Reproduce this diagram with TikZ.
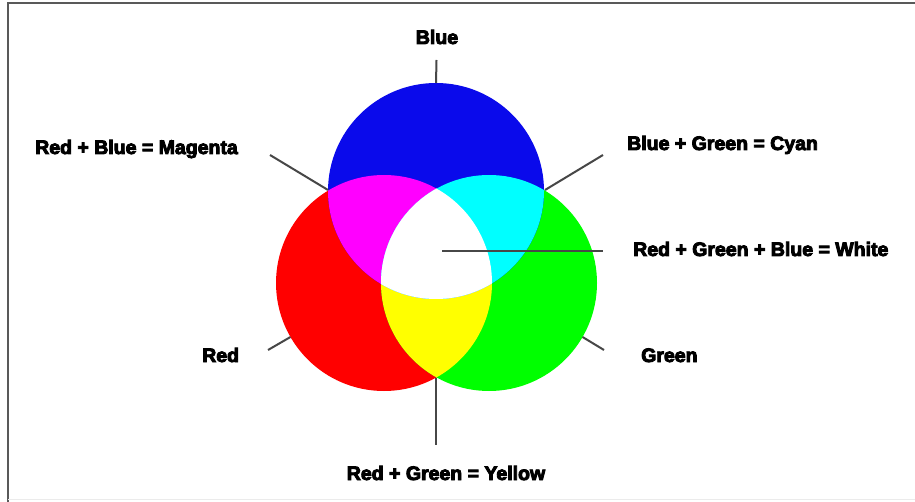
\documentclass[tikz,border=0pt]{standalone}
\usepackage{fontspec}
\setmainfont{Liberation Sans}
\newcommand{\heavytext}[1]{\special{pdf:literal 0 0 0 RG 2 Tr 0.9 w}#1\special{pdf:literal 0 Tr 1 w}}
\begin{document}
\begin{tikzpicture}[x=1pt,y=-1pt,
  disc/.style={circle,minimum size=216pt,inner sep=0pt,outer sep=0pt},
  tick/.style={draw=black!72,line width=2pt},
  lbl/.style={font=\fontsize{19.5}{22}\selectfont\bfseries,inner sep=0pt,text=black}]
\definecolor{cblue}{RGB}{10,10,235}
\definecolor{cred}{RGB}{255,0,0}
\definecolor{cgreen}{RGB}{0,255,0}
\definecolor{cmag}{RGB}{255,0,255}
\definecolor{ccyan}{RGB}{0,255,255}
\definecolor{cyel}{RGB}{255,255,0}
\useasboundingbox (0,0) rectangle (915,502);
\fill[white] (0,0) rectangle (915,502);
% frame
\draw[black!65,line width=2pt] (8,502) -- (8,3) -- (915,3);
\draw[black!8,line width=1pt] (8,499.5) -- (915,499.5);
% circles
\node[disc,fill=cred] (R) at (384,283) {};
\node[disc,fill=cgreen] (G) at (489,283) {};
\node[disc,fill=cblue] (B) at (436,191) {};
\begin{scope}
  \clip (384,283) circle[radius=108];
  \fill[cyel] (489,283) circle[radius=108];
  \fill[cmag] (436,191) circle[radius=108];
  \clip (489,283) circle[radius=108];
  \fill[white] (436,191) circle[radius=108];
\end{scope}
\begin{scope}
  \clip (489,283) circle[radius=108];
  \fill[ccyan] (436,191) circle[radius=108];
  \clip (384,283) circle[radius=108];
  \fill[white] (436,191) circle[radius=108];
\end{scope}
% tick coordinates
\coordinate (bt) at (436.5,60);
\coordinate (mt) at (270,155);
\coordinate (mi) at (328,190);
\coordinate (ct) at (603,155);
\coordinate (ci) at (545,190);
\coordinate (wi) at (442,251);
\coordinate (wt) at (603,251);
\coordinate (yi) at (436,378);
\coordinate (yt) at (436,445);
\coordinate (rt) at (268,350);
\coordinate (gt) at (604,350);
\draw[tick] (bt) -- (B.north);
\draw[tick] (mt) -- (mi);
\draw[tick] (ct) -- (ci);
\draw[tick] (wi) -- (wt);
\draw[tick] (yi) -- (yt);
\draw[tick] (rt) -- (R.210);
\draw[tick] (gt) -- (G.-30);
% labels
\node[lbl,anchor=base] (lblue) at (437,44) {\heavytext{Blue}};
\node[lbl,anchor=base west] (lmag) at (35,154) {\heavytext{Red + Blue = Magenta}};
\node[lbl,anchor=base west] (lcyan) at (627,150) {\heavytext{Blue + Green = Cyan}};
\node[lbl,anchor=base west] (lwhite) at (633,256) {\heavytext{Red + Green + Blue = White}};
\node[lbl,anchor=base west] (lred) at (202,362) {\heavytext{Red}};
\node[lbl,anchor=base west] (lgreen) at (641,362) {\heavytext{Green}};
\node[lbl,anchor=base] (lyellow) at (446,480) {\heavytext{Red + Green = Yellow}};
\end{tikzpicture}
\end{document}
